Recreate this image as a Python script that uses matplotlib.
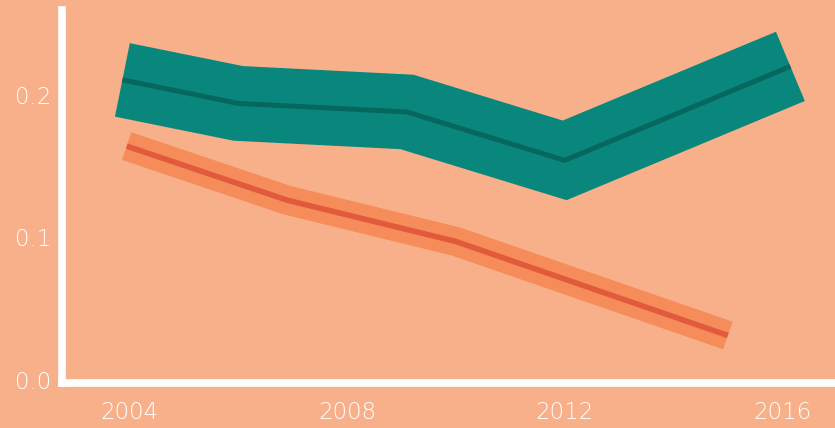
import matplotlib
matplotlib.use("Agg")
import matplotlib.pyplot as plt

# data
teal_years = [2003.87, 2006.0, 2009.1, 2012.0, 2016.15]
teal_values = [0.2105, 0.194, 0.188, 0.154, 0.220]

orange_years = [2003.95, 2006.9, 2010.0, 2015.0]
orange_values = [0.164, 0.126, 0.097, 0.031]

x_ticks = [2004, 2008, 2012, 2016]
y_ticks = [0.0, 0.1, 0.2]
y_tick_labels = ["0.0", "0.1", "0.2"]

bg = "#F7B08A"

fig = plt.figure(figsize=(8.35, 4.28), dpi=100)
fig.patch.set_facecolor(bg)
ax = fig.add_axes([62 / 835, 45 / 428, 773 / 835, 373 / 428])
ax.set_facecolor(bg)

# wide band + thin centre line for each series
ax.plot(teal_years, teal_values, color="#0A877C", linewidth=54,
        solid_capstyle="butt", solid_joinstyle="miter", clip_on=False)
ax.plot(teal_years, teal_values, color="#06675D", linewidth=3.6,
        solid_capstyle="butt", solid_joinstyle="miter", clip_on=False)

ax.plot(orange_years, orange_values, color="#F58C59", linewidth=21,
        solid_capstyle="butt", solid_joinstyle="miter", clip_on=False)
ax.plot(orange_years, orange_values, color="#E15A3B", linewidth=4,
        solid_capstyle="butt", solid_joinstyle="miter", clip_on=False)

ax.set_xlim(2002.76, 2016.97)
ax.set_ylim(-0.0024, 0.2596)

ax.set_xticks(x_ticks)
ax.set_xticklabels([str(t) for t in x_ticks])
ax.set_yticks(y_ticks)
ax.set_yticklabels(y_tick_labels)

for lab in ax.get_xticklabels() + ax.get_yticklabels():
    lab.set_fontsize(16.5)
    lab.set_color("white")
    lab.set_family("DejaVu Sans")
    lab.set_fontweight(200)

ax.tick_params(axis="x", length=0, pad=13)
ax.tick_params(axis="y", length=0, pad=8)

for side in ["top", "right"]:
    ax.spines[side].set_visible(False)
for side in ["left", "bottom"]:
    ax.spines[side].set_color("white")
    ax.spines[side].set_linewidth(5.5)

fig.savefig("out.png", dpi=100, facecolor=bg)
